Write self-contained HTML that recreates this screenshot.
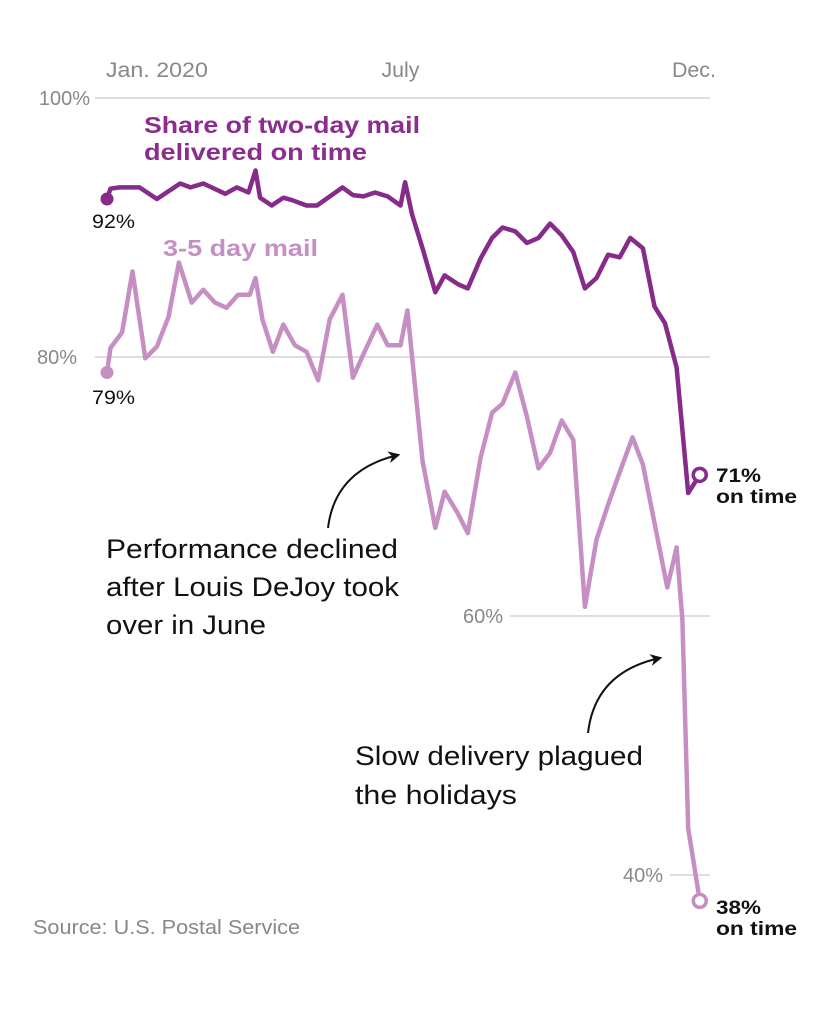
<!DOCTYPE html>
<html><head><meta charset="utf-8">
<style>
html,body{margin:0;padding:0;background:#fff;}
svg{display:block;font-family:"Liberation Sans",sans-serif;}
</style></head>
<body>
<svg id="chart" width="828" height="1013" viewBox="0 0 828 1013">
<defs><marker id="ah" viewBox="0 0 10 10" refX="8" refY="5" markerWidth="6" markerHeight="6" orient="auto"><path d="M0,0 L10,5 L0,10 L3,5 z" fill="#111"/></marker></defs>
<g id="grid"></g>
<g id="lines"></g>
<g>
<text x="144" y="133" font-size="23" font-weight="bold" fill="#8b2c8e" textLength="276" lengthAdjust="spacingAndGlyphs">Share of two-day mail</text>
<text x="144" y="160" font-size="23" font-weight="bold" fill="#8b2c8e" textLength="223" lengthAdjust="spacingAndGlyphs">delivered on time</text>
<text x="163" y="256" font-size="23" font-weight="bold" fill="#c68fc4" textLength="155" lengthAdjust="spacingAndGlyphs">3-5 day mail</text>
<text x="92" y="228" font-size="19" fill="#111" textLength="43" lengthAdjust="spacingAndGlyphs">92%</text>
<text x="92" y="404" font-size="19" fill="#111" textLength="43" lengthAdjust="spacingAndGlyphs">79%</text>
<text x="716" y="482" font-size="19" font-weight="bold" fill="#111" textLength="45" lengthAdjust="spacingAndGlyphs">71%</text>
<text x="716" y="503" font-size="19" font-weight="bold" fill="#111" textLength="81" lengthAdjust="spacingAndGlyphs">on time</text>
<text x="716" y="914" font-size="19" font-weight="bold" fill="#111" textLength="45" lengthAdjust="spacingAndGlyphs">38%</text>
<text x="716" y="935" font-size="19" font-weight="bold" fill="#111" textLength="81" lengthAdjust="spacingAndGlyphs">on time</text>
<text font-size="27" fill="#111"><tspan x="106" y="558" textLength="292" lengthAdjust="spacingAndGlyphs">Performance declined</tspan><tspan x="106" y="596" textLength="293" lengthAdjust="spacingAndGlyphs">after Louis DeJoy took</tspan><tspan x="106" y="634" textLength="160" lengthAdjust="spacingAndGlyphs">over in June</tspan></text>
<text font-size="27" fill="#111"><tspan x="355" y="765" textLength="288" lengthAdjust="spacingAndGlyphs">Slow delivery plagued</tspan><tspan x="355" y="804" textLength="162" lengthAdjust="spacingAndGlyphs">the holidays</tspan></text>
<path d="M328,528 Q335,470 398,455" fill="none" stroke="#111" stroke-width="2" marker-end="url(#ah)"/>
<path d="M588,733 Q595,672 660,658" fill="none" stroke="#111" stroke-width="2" marker-end="url(#ah)"/>
<text x="33" y="934" font-size="20" fill="#888" textLength="267" lengthAdjust="spacingAndGlyphs">Source: U.S. Postal Service</text>
</g>
</svg>
<script>
const monthLabels = ["Jan. 2020", "July", "Dec."];
const monthWeeks = [4.3, 25.3, 50.6];
const yTicks = [100, 80, 60, 40];
const tickLabels = ["100%", "80%", "60%", "40%"];
const weeksTwoDay = [0,0.3,1.1,2.8,4.3,6.3,7.2,8.3,10.2,11.2,12.2,12.8,13.2,14.2,15.2,16.0,17.2,18.1,20.3,21.2,22.1,23.1,24.2,25.3,25.7,26.3,27.2,28.3,29.1,30.3,31.1,32.2,33.2,34.1,35.2,36.2,37.2,38.2,39.2,40.2,41.2,42.2,43.2,44.2,45.1,46.2,47.2,48.1,49.1,50.1,51.1];
const valuesTwoDay = [92.2,93.0,93.1,93.1,92.2,93.4,93.1,93.4,92.6,93.1,92.7,94.4,92.3,91.7,92.3,92.1,91.7,91.7,93.1,92.5,92.4,92.7,92.4,91.7,93.5,91.0,88.4,85.0,86.3,85.6,85.3,87.6,89.2,90.0,89.7,88.8,89.2,90.3,89.4,88.1,85.3,86.1,87.9,87.7,89.2,88.4,83.9,82.6,79.2,69.5,70.9];
const weeksThreeFive = [0,0.3,1.3,2.2,3.3,4.3,5.3,6.2,7.3,8.3,9.3,10.3,11.3,12.3,12.8,13.4,14.3,15.2,16.2,17.2,18.2,19.2,20.3,21.2,22.2,23.3,24.2,25.3,25.9,27.2,28.3,29.1,30.2,31.1,32.2,33.2,34.1,35.2,36.2,37.2,38.2,39.2,40.2,41.2,42.2,43.2,44.2,45.3,46.2,48.3,49.1,49.6,50.1,51.1];
const valuesThreeFive = [78.8,80.7,81.9,86.6,79.9,80.8,83.1,87.3,84.2,85.2,84.2,83.8,84.8,84.8,86.1,82.9,80.4,82.5,80.9,80.4,78.2,82.9,84.8,78.4,80.4,82.5,80.9,80.9,83.6,72.0,66.8,69.6,68.0,66.4,72.2,75.7,76.4,78.8,75.4,71.4,72.6,75.1,73.6,60.7,65.9,68.6,71.1,73.8,71.7,62.2,65.3,59.7,43.6,38.0];

const NS = "http://www.w3.org/2000/svg";
const xS = w => 107 + w * 11.6;
const yS = v => 98 + (100 - v) * 12.95;
const grid = document.getElementById("grid");
const lines = document.getElementById("lines");
function mk(tag, attrs, parent){const e=document.createElementNS(NS,tag);for(const k in attrs)e.setAttribute(k,attrs[k]);parent.appendChild(e);return e;}
const tickLineStart = [95, 95, 510, 670];
const tickLabelRight = [90, 77, 503, 663];
yTicks.forEach((t,i)=>{
  const l = mk("line",{x1:tickLineStart[i],x2:710,y1:yS(t),y2:yS(t),stroke:"#d4d4d4","stroke-width":1.5},grid);
  
  
  const tx = mk("text",{x:tickLabelRight[i],y:yS(t)+7,"text-anchor":"end","font-size":20,fill:"#888"},grid);
  tx.textContent = tickLabels[i];
  
  
});
const monthWidths = [102, 38, 44];
monthLabels.forEach((m,i)=>{
  const tx = mk("text",{x:xS(monthWeeks[i]) - monthWidths[i]/2,y:77,"font-size":21,fill:"#888",textLength:monthWidths[i],lengthAdjust:"spacingAndGlyphs"},grid);
  tx.textContent = m;
  
  
});
function series(ws, vs, color, name){
  const d = ws.map((w,i)=>(i?"L":"M")+xS(w).toFixed(1)+","+yS(vs[i]).toFixed(1)).join(" ");
  const p = mk("path",{d:d,fill:"none",stroke:color,"stroke-width":4.5,"stroke-linejoin":"round"},lines);
  
  
  const s = mk("circle",{cx:xS(ws[0]),cy:yS(vs[0]),r:6.5,fill:color},lines);
  
  
  const n = ws.length-1;
  const e = mk("circle",{cx:xS(ws[n]),cy:yS(vs[n]),r:6.5,fill:"#fff",stroke:color,"stroke-width":3.5},lines);
  
  
}
series(weeksThreeFive, valuesThreeFive, "#c68fc4", "three-five-day");
series(weeksTwoDay, valuesTwoDay, "#862b8a", "two-day");
</script>
</body></html>
